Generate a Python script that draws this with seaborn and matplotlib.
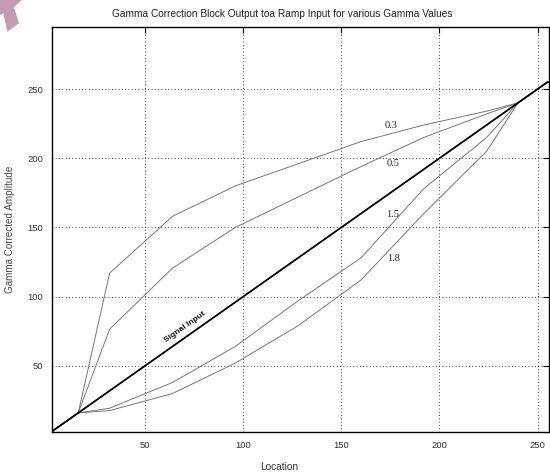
import matplotlib
matplotlib.use("Agg")
import matplotlib.pyplot as plt
from matplotlib.patches import Polygon
import seaborn as sns
import pandas as pd

# ---- data ----
knots_x = [0, 16, 32, 64, 96, 128, 160, 192, 224, 240, 255, 256]
gamma_03 = [0, 16, 117, 158, 180, 196, 212, 224, 234, 240, 255, 255]
gamma_05 = [0, 16, 76.5, 120.6, 150, 172, 194, 215, 232, 240, 255, 255]
gamma_15 = [0, 16, 19.4, 38, 64, 97, 128, 178, 215, 240, 255, 255]
gamma_18 = [0, 16, 17.7, 30, 52, 79, 112, 160, 205, 240, 255, 255]
signal_x = [0, 255, 256]
signal_y = [0, 255, 255]
gamma_labels = ["0.3", "0.5", "1.5", "1.8"]
label_pos_x = [175.3, 176.3, 176.3, 176.7]
label_pos_y = [223.3, 196.5, 159.0, 127.3]
ticks = [50, 100, 150, 200, 250]

title = "Gamma Correction Block Output toa Ramp Input for various Gamma Values"
xlabel = "Location"
ylabel = "Gamma Corrected Amplitude"

rows = []
for name, vals in zip(gamma_labels, [gamma_03, gamma_05, gamma_15, gamma_18]):
    for x, y in zip(knots_x, vals):
        rows.append({"x": x, "y": y, "g": name})
df = pd.DataFrame(rows)
sig = pd.DataFrame({"x": signal_x, "y": signal_y})

sns.set_style("white")
plt.rcParams["font.family"] = ["Liberation Sans", "DejaVu Sans"]

fig = plt.figure(figsize=(5.5, 4.72), dpi=100)
ax = fig.add_axes([0.094, 0.0841, 0.905, 0.8593])

sns.lineplot(data=df, x="x", y="y", units="g", estimator=None, sort=False,
             color="#777777", lw=0.7, ax=ax)
sns.lineplot(data=sig, x="x", y="y", sort=False, color="black", lw=1.3, ax=ax)

ax.set_xlim(2.5, 256)
ax.set_ylim(2, 295)
ax.set_xticks(ticks)
ax.set_yticks(ticks)
ax.grid(True, color="#222222", lw=0.7, linestyle=(0, (0.8, 2.6)))
ax.tick_params(direction="in", length=4, width=0.8, top=True, right=True,
               labelsize=6.8, colors="black", labelcolor="#333333", pad=6)
for s in ax.spines.values():
    s.set_color("black")
    s.set_linewidth(1.0)
    s.set_visible(True)

ax.set_title(title, fontsize=7.3, color="#222222", pad=7, x=0.464)
ax.set_xlabel(xlabel, fontsize=7.3, color="#333333", labelpad=9, x=0.458)
ax.set_ylabel(ylabel, fontsize=7.1, color="#444444", labelpad=9)

for t, x, y in zip(gamma_labels, label_pos_x, label_pos_y):
    ax.text(x, y, t, fontsize=7.5, family=["Liberation Serif", "DejaVu Serif"],
            ha="center", va="center", color="#222222")
ax.text(70.4, 78.2, "Signal Input", fontsize=6, fontweight="bold", rotation=35,
        ha="center", va="center", color="#111111", rotation_mode="anchor")

# decorative watermark fragment (top-left)
pts = [(0, 0), (21.7, 0), (14, 7.3), (19, 23.3), (7.3, 31.7), (3.3, 13.3), (0, 15)]
poly = Polygon([(px / 550, 1 - py / 472) for px, py in pts], closed=True,
               transform=fig.transFigure, facecolor="#c49bb5", edgecolor="none")
fig.patches.append(poly)

fig.savefig("out.png", dpi=100)
